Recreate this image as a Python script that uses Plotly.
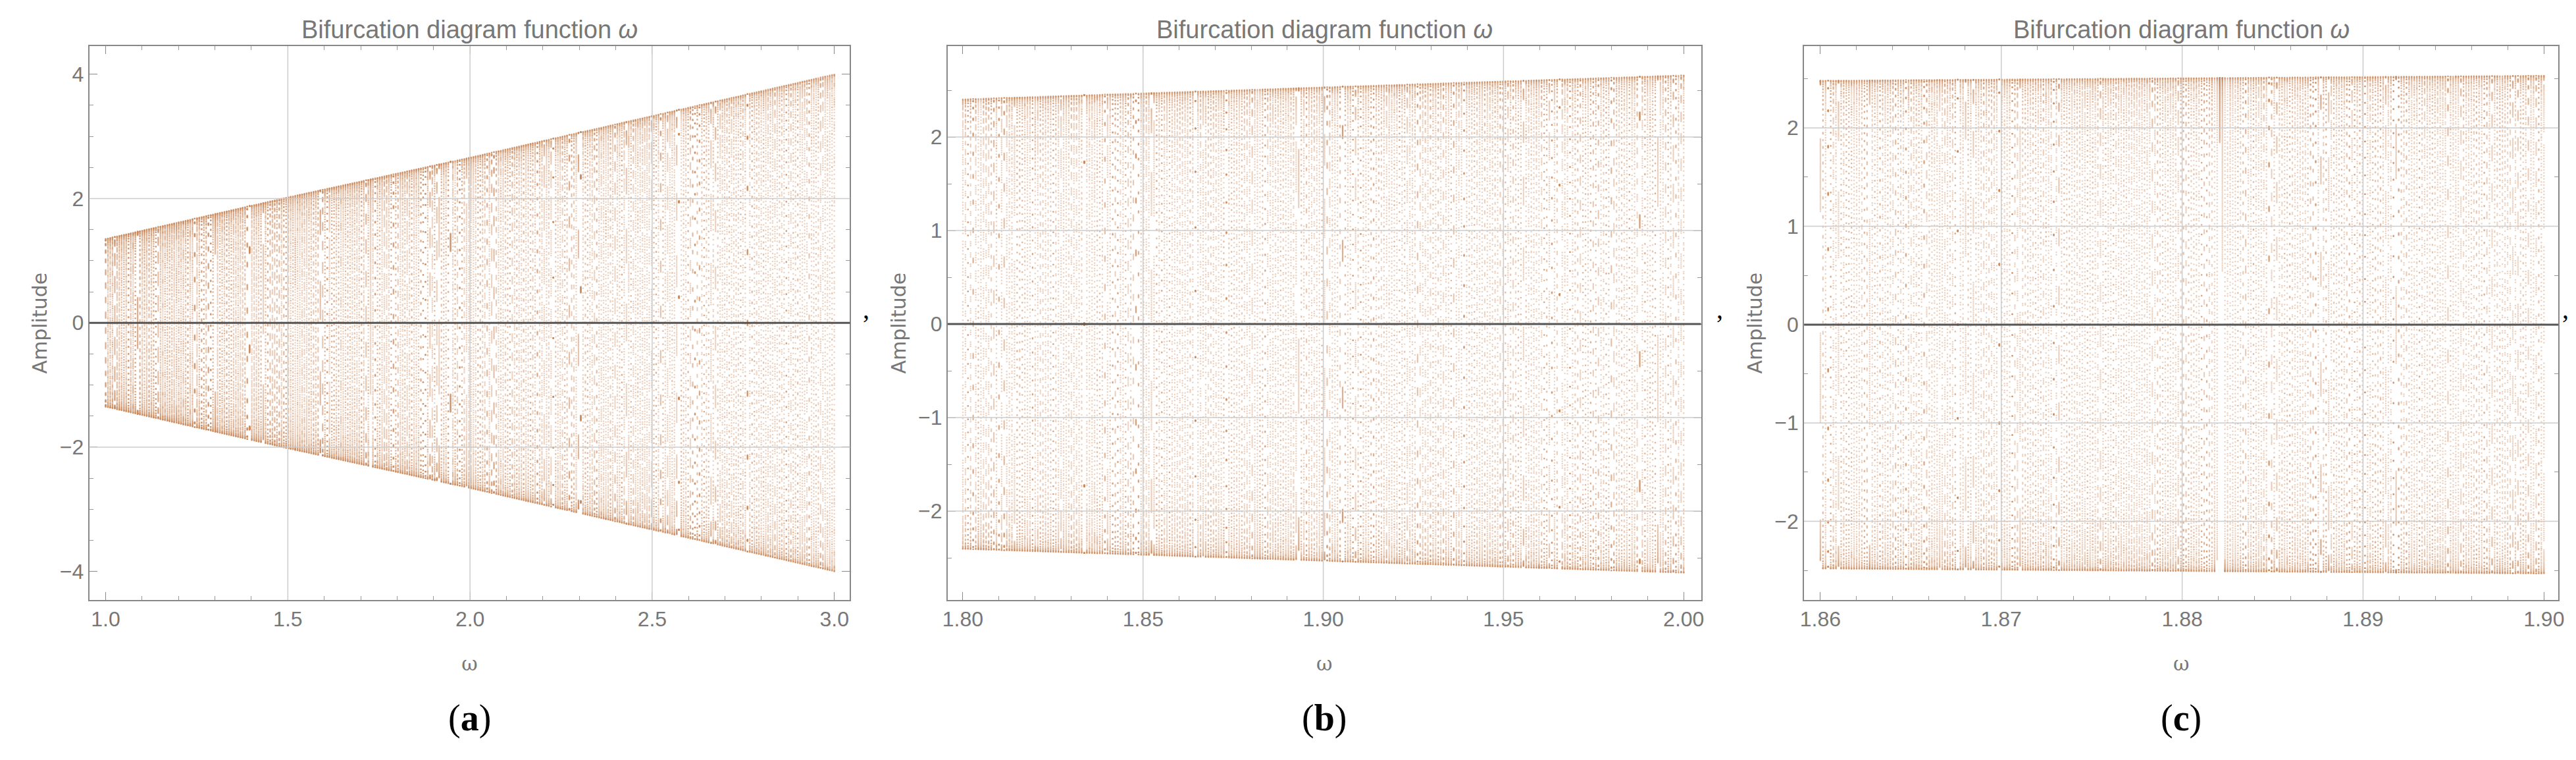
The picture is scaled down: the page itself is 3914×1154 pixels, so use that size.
import numpy as np
import plotly.graph_objects as go

# Envelope of the amplitude
env_omega = [1.0, 1.5, 2.0, 2.5, 3.0]
env_amp = [1.35, 2.02, 2.66, 3.33, 4.0]
# locking frequencies / spacing
lock_omega = 1.885
lock_spacing = 0.0775

panels = [
    dict(name="a", wmin=1.0, wmax=3.0, ncol=320, xr=[0.955, 3.043], yr=[-4.46, 4.45],
         xticks=[1.0, 1.5, 2.0, 2.5, 3.0], xlab=["1.0", "1.5", "2.0", "2.5", "3.0"],
         yticks=[-4, -2, 0, 2, 4], dom=[0.0307, 0.3273]),
    dict(name="b", wmin=1.80, wmax=2.00, ncol=280, xr=[1.7958, 2.0048], yr=[-2.95, 2.97],
         xticks=[1.80, 1.85, 1.90, 1.95, 2.00], xlab=["1.80", "1.85", "1.90", "1.95", "2.00"],
         yticks=[-2, -1, 0, 1, 2], dom=[0.3654, 0.6591]),
    dict(name="c", wmin=1.86, wmax=1.90, ncol=280, xr=[1.8591, 1.9008], yr=[-2.80, 2.83],
         xticks=[1.86, 1.87, 1.88, 1.89, 1.90], xlab=["1.86", "1.87", "1.88", "1.89", "1.90"],
         yticks=[-2, -1, 0, 1, 2], dom=[0.6993, 0.9934]),
]
n_samples = 180
labels = ["(a)", "(b)", "(c)"]

fig = go.Figure()
gray = "#777777"
for i, p in enumerate(panels):
    ax = "" if i == 0 else str(i + 1)
    w = np.linspace(p["wmin"], p["wmax"], p["ncol"])
    n = np.arange(1, n_samples + 1)
    W, N = np.meshgrid(w, n)
    A = np.interp(W, env_omega, env_amp)
    phase = 2 * np.pi * N * ((W - lock_omega) / lock_spacing + 1.0 / 27.0)
    Y = A * np.cos(phase)
    fig.add_trace(go.Scatter(x=W.ravel(), y=Y.ravel(), mode="markers",
                             marker=dict(size=2.4, color="rgba(205,140,95,0.4)"),
                             xaxis="x" + ax, yaxis="y" + ax, showlegend=False, hoverinfo="skip"))
    grid_x = [t for t in p["xticks"][1:-1]]
    common = dict(showline=True, linecolor="#888888", linewidth=2, mirror="ticks",
                  ticks="inside", ticklen=12, tickcolor="#888888", showgrid=False, zeroline=False,
                  tickfont=dict(family="Liberation Sans Narrow, Arial", size=32, color=gray),
                  minor=dict(ticks="inside", ticklen=6, tickcolor="#999999", nticks=5))
    fig.layout["xaxis" + ax] = dict(common, domain=p["dom"], range=p["xr"], anchor="y" + ax,
                                    tickvals=p["xticks"], ticktext=p["xlab"],
                                    title=dict(text="ω", font=dict(family="DejaVu Serif", size=30, color=gray), standoff=40))
    fig.layout["yaxis" + ax] = dict(common, domain=[0.2175, 0.946], range=p["yr"], anchor="x" + ax,
                                    tickvals=p["yticks"],
                                    title=dict(text="Amplitude", font=dict(family="DejaVu Sans", size=30, color=gray), standoff=10))
    for gx in grid_x:
        fig.add_shape(type="line", xref="x" + ax, yref="y" + ax + " domain", x0=gx, x1=gx, y0=0, y1=1,
                      line=dict(color="#cccccc", width=1.5), layer="above")
    for gy in p["yticks"]:
        if gy in (p["yticks"][0], p["yticks"][-1]) and i == 0:
            continue
        fig.add_shape(type="line", xref="x" + ax + " domain", yref="y" + ax, x0=0, x1=1, y0=gy, y1=gy,
                      line=dict(color="#555555" if gy == 0 else "#cccccc", width=3 if gy == 0 else 1.5),
                      layer="above")
    fig.add_annotation(text="Bifurcation diagram function <i>ω</i>", xref="paper", yref="paper",
                       x=sum(p["dom"]) / 2, xanchor="center", y=0.948, yanchor="bottom", showarrow=False,
                       font=dict(family="Liberation Sans Narrow, Arial", size=38, color=gray))
    fig.add_annotation(text=labels[i].replace(p["name"], "<b>" + p["name"] + "</b>"), xref="paper", yref="paper",
                       x=sum(p["dom"]) / 2, xanchor="center", y=0.033, showarrow=False,
                       font=dict(family="Liberation Serif", size=56, color="black"))
for cx in [0.3335, 0.6665, 0.998]:
    fig.add_annotation(text=",", xref="paper", yref="paper", x=cx, y=0.6, showarrow=False,
                       font=dict(family="Liberation Serif", size=40, color="black"))

fig.update_layout(width=3914, height=1154, margin=dict(l=0, r=0, t=0, b=0),
                  plot_bgcolor="white", paper_bgcolor="white")
fig.write_html("out.html")
